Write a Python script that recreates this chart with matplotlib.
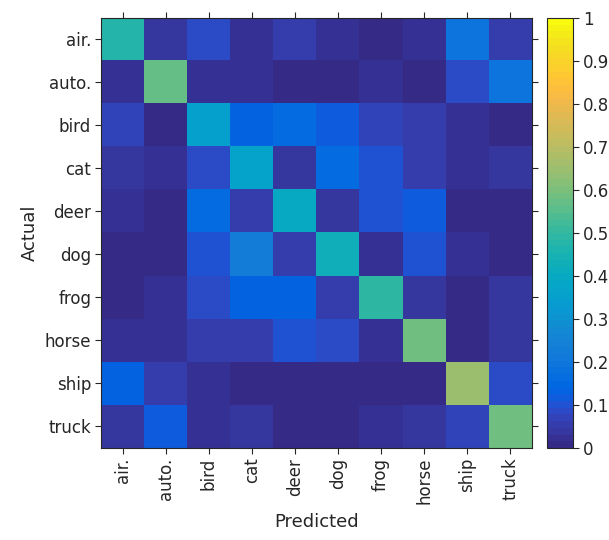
import numpy as np
import matplotlib
matplotlib.use("Agg")
import matplotlib.pyplot as plt
from matplotlib.colors import ListedColormap

# 64-step parula colormap
parula_data = [
    [0.2081, 0.1663, 0.5292], [0.2116, 0.1898, 0.5777], [0.2123, 0.2138, 0.6270], [0.2081, 0.2386, 0.6771],
    [0.1959, 0.2645, 0.7279], [0.1707, 0.2919, 0.7792], [0.1253, 0.3242, 0.8303], [0.0591, 0.3598, 0.8683],
    [0.0117, 0.3875, 0.8820], [0.0060, 0.4086, 0.8828], [0.0165, 0.4266, 0.8786], [0.0329, 0.4430, 0.8720],
    [0.0498, 0.4586, 0.8641], [0.0629, 0.4737, 0.8554], [0.0723, 0.4887, 0.8467], [0.0779, 0.5040, 0.8384],
    [0.0793, 0.5200, 0.8312], [0.0749, 0.5375, 0.8263], [0.0641, 0.5570, 0.8240], [0.0488, 0.5772, 0.8228],
    [0.0343, 0.5966, 0.8199], [0.0265, 0.6137, 0.8135], [0.0239, 0.6287, 0.8038], [0.0231, 0.6418, 0.7913],
    [0.0228, 0.6535, 0.7768], [0.0267, 0.6642, 0.7607], [0.0384, 0.6743, 0.7436], [0.0590, 0.6838, 0.7254],
    [0.0843, 0.6928, 0.7062], [0.1133, 0.7015, 0.6859], [0.1453, 0.7098, 0.6646], [0.1801, 0.7177, 0.6424],
    [0.2178, 0.7250, 0.6193], [0.2586, 0.7317, 0.5954], [0.3022, 0.7376, 0.5712], [0.3482, 0.7424, 0.5473],
    [0.3953, 0.7459, 0.5244], [0.4420, 0.7481, 0.5033], [0.4871, 0.7491, 0.4840], [0.5300, 0.7491, 0.4661],
    [0.5709, 0.7485, 0.4494], [0.6099, 0.7473, 0.4337], [0.6473, 0.7456, 0.4188], [0.6834, 0.7435, 0.4044],
    [0.7184, 0.7411, 0.3905], [0.7525, 0.7384, 0.3768], [0.7858, 0.7356, 0.3633], [0.8185, 0.7327, 0.3498],
    [0.8507, 0.7299, 0.3360], [0.8824, 0.7274, 0.3217], [0.9139, 0.7258, 0.3063], [0.9450, 0.7261, 0.2886],
    [0.9739, 0.7314, 0.2666], [0.9938, 0.7455, 0.2403], [0.9990, 0.7653, 0.2164], [0.9955, 0.7861, 0.1967],
    [0.9880, 0.8066, 0.1794], [0.9789, 0.8271, 0.1633], [0.9697, 0.8481, 0.1475], [0.9626, 0.8705, 0.1309],
    [0.9589, 0.8949, 0.1132], [0.9598, 0.9218, 0.0948], [0.9661, 0.9514, 0.0755], [0.9763, 0.9831, 0.0538],
]
parula = ListedColormap(parula_data, name="parula")

classes = ["air.", "auto.", "bird", "cat", "deer", "dog", "frog", "horse", "ship", "truck"]

# rows: actual class, columns: predicted class
row_air   = [0.47, 0.04, 0.08, 0.02, 0.05, 0.03, 0.01, 0.025, 0.19, 0.05]
row_auto  = [0.03, 0.57, 0.025, 0.025, 0.01, 0.01, 0.025, 0.01, 0.08, 0.19]
row_bird  = [0.07, 0.01, 0.35, 0.13, 0.17, 0.11, 0.065, 0.05, 0.025, 0.01]
row_cat   = [0.035, 0.025, 0.08, 0.36, 0.04, 0.17, 0.095, 0.055, 0.025, 0.035]
row_deer  = [0.03, 0.015, 0.17, 0.05, 0.40, 0.04, 0.095, 0.11, 0.01, 0.01]
row_dog   = [0.01, 0.01, 0.095, 0.22, 0.05, 0.43, 0.03, 0.095, 0.025, 0.01]
row_frog  = [0.01, 0.025, 0.08, 0.13, 0.13, 0.05, 0.49, 0.045, 0.01, 0.04]
row_horse = [0.025, 0.025, 0.05, 0.05, 0.095, 0.08, 0.025, 0.59, 0.01, 0.04]
row_ship  = [0.13, 0.05, 0.025, 0.01, 0.01, 0.01, 0.01, 0.01, 0.65, 0.08]
row_truck = [0.045, 0.11, 0.025, 0.035, 0.01, 0.01, 0.025, 0.035, 0.07, 0.59]

conf = np.array([row_air, row_auto, row_bird, row_cat, row_deer,
                 row_dog, row_frog, row_horse, row_ship, row_truck])

dark = "#262626"
plt.rcParams["font.family"] = ["DejaVu Sans"]

fig = plt.figure(figsize=(6.09, 5.40), dpi=100)
ax = fig.add_axes([0.1658, 0.1704, 0.7077, 0.7963])
cax = fig.add_axes([0.8982, 0.1704, 0.0427, 0.7963])

im = ax.imshow(conf, cmap=parula, vmin=0, vmax=1, aspect="auto",
               interpolation="nearest")

n = len(classes)
ax.set_xticks(np.arange(n))
ax.set_yticks(np.arange(n))
ax.set_xticklabels(classes, rotation=90, fontsize=12, color=dark)
ax.set_yticklabels(classes, fontsize=12, color=dark)
ax.tick_params(direction="out", length=4, width=0.8, color=dark,
               top=True, right=True, pad=3)
ax.set_xlabel("Predicted", fontsize=13, color=dark, labelpad=6)
ax.set_ylabel("Actual", fontsize=13, color=dark, labelpad=4)
for s in ax.spines.values():
    s.set_color(dark)
    s.set_linewidth(0.8)

cb = fig.colorbar(im, cax=cax)
cb.set_ticks(np.round(np.arange(0, 1.01, 0.1), 1))
cb.set_ticklabels(["0", "0.1", "0.2", "0.3", "0.4", "0.5", "0.6", "0.7", "0.8", "0.9", "1"])
cax.tick_params(direction="out", length=4, width=0.8, color=dark,
                labelsize=12, labelcolor=dark, pad=3)
cb.outline.set_edgecolor(dark)
cb.outline.set_linewidth(0.8)

fig.savefig("out.png", dpi=100)
